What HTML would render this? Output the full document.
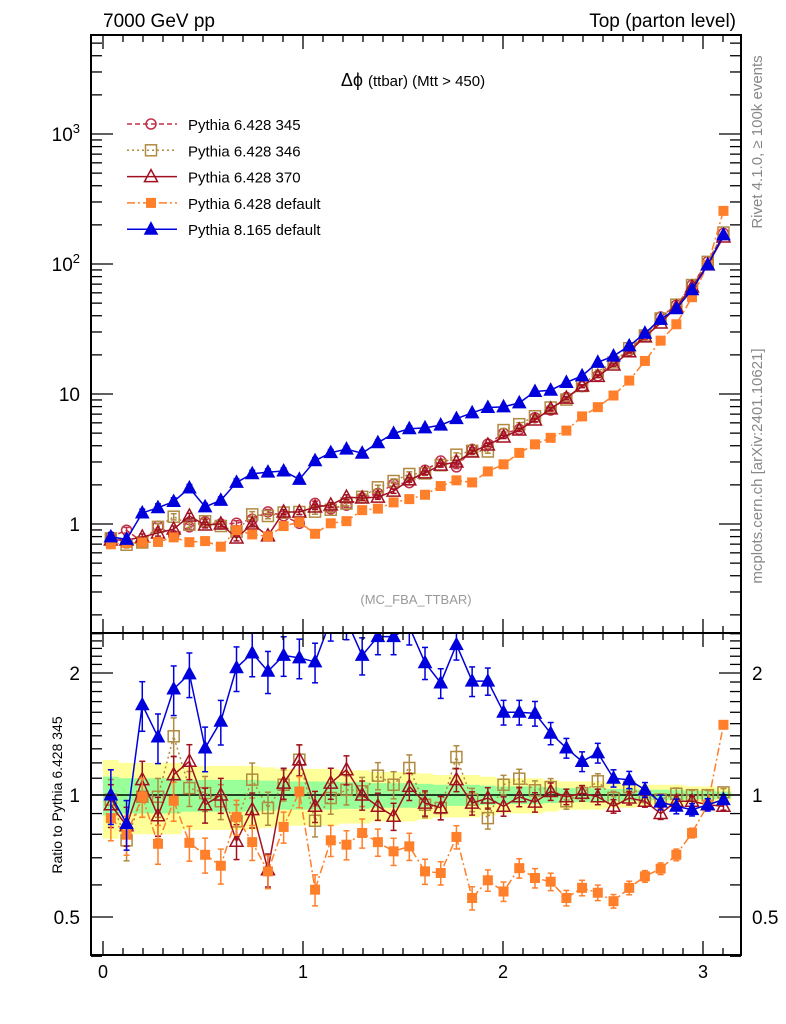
<!DOCTYPE html>
<html><head><meta charset="utf-8">
<style>
body{margin:0;background:#fff;}
svg{display:block;font-family:"Liberation Sans",sans-serif;}
</style></head>
<body>
<svg id="chart" width="786" height="1024" viewBox="0 0 786 1024" xmlns="http://www.w3.org/2000/svg">
<defs>
<clipPath id="cm"><rect x="91" y="35" width="650" height="598"/></clipPath>
<clipPath id="cr"><rect x="91" y="633" width="650" height="322"/></clipPath>
</defs>
<text x="103" y="27" font-size="19">7000 GeV pp</text>
<text x="736" y="27" font-size="19" text-anchor="end">Top (parton level)</text>
<text transform="translate(762,142) rotate(-90)" font-size="15" fill="#888" text-anchor="middle">Rivet 4.1.0, ≥ 100k events</text>
<text transform="translate(762,466) rotate(-90)" font-size="15" fill="#888" text-anchor="middle">mcplots.cern.ch [arXiv:2401.10621]</text>
<text x="413" y="86" font-size="18" text-anchor="middle">Δϕ <tspan font-size="15">(ttbar) (Mtt &gt; 450)</tspan></text>
<text x="416" y="604" font-size="13" fill="#999" text-anchor="middle">(MC_FBA_TTBAR)</text>
<text transform="translate(62,795) rotate(-90)" font-size="14" text-anchor="middle">Ratio to Pythia 6.428 345</text>
<g id="bands" clip-path="url(#cr)"></g>
<g id="marks"></g>
<g id="axes"></g>
<g id="legend"></g>
</svg>
<script>
const NS="http://www.w3.org/2000/svg";
// ---- data ----
const nBins = 40;
const xMax = Math.PI;
const ref345 = [0.796,0.896,0.728,0.96,0.815,0.951,1.038,1.0,1.014,1.087,1.24,1.156,1.012,1.44,1.31,1.395,1.585,1.716,2.02,2.08,2.59,3.05,2.75,3.75,4.12,4.98,5.34,6.57,7.53,9.39,11.4,13.8,17.8,21.5,28.5,39.1,48.3,68.9,104,172];
const refRelErr = [0.11,0.10,0.10,0.10,0.10,0.09,0.09,0.09,0.09,0.09,0.085,0.08,0.08,0.08,0.08,0.075,0.075,0.07,0.07,0.07,0.065,0.06,0.06,0.06,0.055,0.05,0.05,0.05,0.045,0.04,0.04,0.04,0.035,0.035,0.03,0.03,0.03,0.025,0.025,0.02];
const ratio346 = [0.974,0.773,0.99,0.99,1.396,1.04,1.011,0.965,0.861,1.091,0.929,1.06,1.222,0.864,0.983,1.03,1.021,1.116,1.06,1.166,0.946,0.929,1.241,0.974,0.877,1.06,1.097,1.027,1.046,0.965,1.011,1.081,0.983,1.046,0.99,0.974,1.007,0.999,0.999,1.015];
const ratio370 = [0.946,0.84,1.091,0.889,1.122,1.211,0.946,1.0,0.769,0.92,0.654,1.07,1.222,0.938,1.07,1.154,1.0,0.938,0.886,1.05,0.955,0.93,1.091,0.955,0.983,0.938,0.99,0.96,1.02,0.99,1.01,0.99,0.938,0.983,0.965,0.90,0.965,0.965,0.946,0.938];
const ratioP6def = [0.877,0.798,0.99,0.758,0.968,0.762,0.712,0.669,0.883,0.765,0.648,0.834,1.02,0.584,0.773,0.754,0.806,0.765,0.726,0.747,0.648,0.642,0.788,0.557,0.616,0.578,0.66,0.624,0.611,0.557,0.59,0.574,0.547,0.59,0.63,0.658,0.712,0.806,0.946,1.49];
const ratioP8def = [1.0,0.85,1.67,1.39,1.826,1.99,1.306,1.52,2.06,2.24,2.02,2.21,2.18,2.13,2.7,2.7,2.21,2.46,2.46,2.6,2.12,1.89,2.35,1.91,1.91,1.6,1.6,1.59,1.42,1.306,1.21,1.27,1.10,1.09,1.03,0.96,0.938,0.92,0.946,0.974];
const seriesNames = ["Pythia 6.428 345","Pythia 6.428 346","Pythia 6.428 370","Pythia 6.428 default","Pythia 8.165 default"];
const errScale = [1.0,1.1,1.1,1.1,1.4];
const mainTicks = [1,10,100,1000];
const ratioTicks = [0.5,1,2];
const xTicks = [0,1,2,3];
// ---- axes functions ----
const X = v => 103 + 200*v;
const YM = v => 524 - 130*Math.log10(v);
const YR = r => 795 - 122*Math.log2(r);
const binW = xMax/nBins;
const centers = ref345.map((_,i)=>(i+0.5)*binW);

function el(tag, attrs, parent){const e=document.createElementNS(NS,tag);for(const k in attrs)e.setAttribute(k,attrs[k]);parent.appendChild(e);return e;}
const svg=document.getElementById('chart');
const gB=document.getElementById('bands'), gM=document.getElementById('marks'), gA=document.getElementById('axes'), gL=document.getElementById('legend');

function bandPath(k){let top=[],bot=[];centers.forEach((c,i)=>{const x0=X(i*binW),x1=X((i+1)*binW);const e=refRelErr[i]*k;top.push(x0+","+YR(1+e),x1+","+YR(1+e));bot.unshift(x1+","+YR(1-e),x0+","+YR(1-e));});return "M"+top.concat(bot).join(" L")+"Z";}
const yb=el('path',{d:bandPath(2),fill:'#ffff99'},gB);


const gb=el('path',{d:bandPath(1),fill:'#99ff99'},gB);


const one=el('line',{x1:91,x2:741,y1:YR(1),y2:YR(1),stroke:'#000','stroke-width':1.5},gB);



const styles=[
 {c:'#c0304a',dash:'5,3',m:'circle',fill:'none'},
 {c:'#b08a40',dash:'2,3',m:'square',fill:'none'},
 {c:'#a01020',dash:'',m:'triangle',fill:'none'},
 {c:'#ff7f2a',dash:'8,3,2,3',m:'square',fill:'#ff7f2a'},
 {c:'#0000dd',dash:'',m:'triangle',fill:'#0000dd'}
];
function marker(g,type,x,y,s,name){
 let e;
 const fill=s.fill, sw=s.fill==='none'?1.5:1;
 if(type==='circle') e=el('circle',{cx:x,cy:y,r:5,fill:'none',stroke:s.c,'stroke-width':sw},g);
 else if(type==='square'){const h=s.fill==='none'?5.5:4.5;e=el('rect',{x:x-h,y:y-h,width:2*h,height:2*h,fill:fill,stroke:s.c,'stroke-width':sw},g);}
 else e=el('path',{d:`M${x},${y-7} L${x+6.5},${y+5} L${x-6.5},${y+5}Z`,fill:fill,stroke:s.c,'stroke-width':sw},g);
 
 
}
const ratios=[ref345.map(()=>1),ratio346,ratio370,ratioP6def,ratioP8def];
const slugs=['p6-345','p6-346','p6-370','p6-default','p8-default'];
[0,1,2,3,4].forEach(si=>{
 const s=styles[si];
 const vals=ref345.map((v,i)=>v*ratios[si][i]);
 const gm=el('g',{'clip-path':'url(#cm)'},gM);
 
 
 el('polyline',{points:centers.map((c,i)=>X(c)+","+YM(vals[i])).join(" "),fill:'none',stroke:s.c,'stroke-width':1.5,'stroke-dasharray':s.dash},gm);
 vals.forEach((v,i)=>{const e=v*refRelErr[i]*errScale[si]*0.5;const x=X(centers[i]);
  el('line',{x1:x,x2:x,y1:YM(v+e),y2:YM(Math.max(v-e,1e-3)),stroke:s.c,'stroke-width':1.5},gm);
  el('line',{x1:x-3,x2:x+3,y1:YM(v+e),y2:YM(v+e),stroke:s.c,'stroke-width':1.5},gm);
  el('line',{x1:x-3,x2:x+3,y1:YM(v-e),y2:YM(v-e),stroke:s.c,'stroke-width':1.5},gm);
  marker(gm,s.m,x,YM(v),s,'point-'+slugs[si]);});
 if(si===0) return;
 const gr2=el('g',{'clip-path':'url(#cr)'},gM);
 
 
 const r=ratios[si];
 el('polyline',{points:centers.map((c,i)=>X(c)+","+YR(r[i])).join(" "),fill:'none',stroke:s.c,'stroke-width':1.5,'stroke-dasharray':s.dash},gr2);
 r.forEach((v,i)=>{const e=v*refRelErr[i]*errScale[si];const x=X(centers[i]);
  el('line',{x1:x,x2:x,y1:YR(v+e),y2:YR(v-e),stroke:s.c,'stroke-width':1.5},gr2);
  el('line',{x1:x-3,x2:x+3,y1:YR(v+e),y2:YR(v+e),stroke:s.c,'stroke-width':1.5},gr2);
  el('line',{x1:x-3,x2:x+3,y1:YR(v-e),y2:YR(v-e),stroke:s.c,'stroke-width':1.5},gr2);
  marker(gr2,s.m,x,YR(v),s,'ratio-point-'+slugs[si]);});
});

const f1=el('rect',{x:91,y:35,width:650,height:598,fill:'none',stroke:'#000','stroke-width':2},gA);


const f2=el('rect',{x:91,y:633,width:650,height:322,fill:'none',stroke:'#000','stroke-width':2},gA);


function tk(x1,y1,x2,y2){el('line',{x1,y1,x2,y2,stroke:'#000','stroke-width':1.3},gA);}
for(let k=0;k<=31;k++){const v=k/10,x=X(v);const L=(k%10===0)?14:7;
 [[633,-1],[955,-1],[35,1],[633,1]].forEach(([y,d])=>tk(x,y,x,y+d*L));}
xTicks.forEach(v=>{const t=el('text',{x:X(v),y:978,'font-size':18,'text-anchor':'middle'},gA);t.textContent=v;
 
 });
for(let d=-1;d<=3;d++){for(let m=1;m<=9;m++){const v=m*Math.pow(10,d);const y=YM(v);if(y<35||y>633)continue;const L=m===1?22:11;tk(91,y,91+L,y);tk(741,y,741-L,y);}}
const mainLabels=[['1',''],['10',''],['10','2'],['10','3']];
mainTicks.forEach((v,i)=>{const t=el('text',{x:80,y:YM(v)+7,'font-size':19,'text-anchor':'end'},gA);
 t.textContent=mainLabels[i][0];
 if(mainLabels[i][1]){const s=document.createElementNS(NS,'tspan');s.setAttribute('dy','-8');s.setAttribute('font-size','13');s.textContent=mainLabels[i][1];t.appendChild(s);}
 
 });
[0.4,0.5,0.6,0.7,0.8,0.9,1,1.1,1.2,1.3,1.4,1.5,1.6,1.7,1.8,1.9,2,2.1,2.2,2.3,2.4,2.5].forEach(v=>{const y=YR(v);const L=ratioTicks.includes(v)?22:11;tk(91,y,91+L,y);tk(741,y,741-L,y);});
ratioTicks.forEach(v=>{[[80,'end'],[752,'start']].forEach(([x,a])=>{const t=el('text',{x:x,y:YR(v)+7,'font-size':19,'text-anchor':a},gA);t.textContent=v;
 
 });});
seriesNames.forEach((n,i)=>{const y=124+i*26.3;const s=styles[i];
 const g=el('g',{},gL);
 
 
 el('line',{x1:127,x2:177,y1:y,y2:y,stroke:s.c,'stroke-width':1.5,'stroke-dasharray':s.dash},g);
 marker(g,s.m,151,y,s,'legend-marker');
 const t=el('text',{x:188,y:y+6,'font-size':15},g);t.textContent=n;});
</script>
</body></html>
